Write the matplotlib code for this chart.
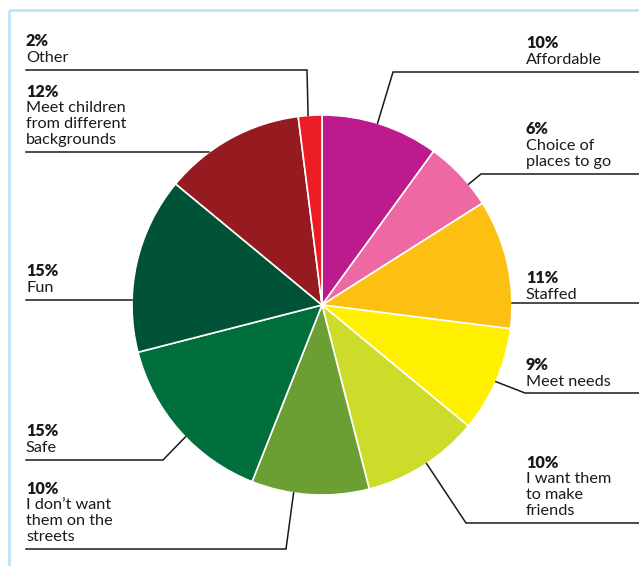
import numpy as np
import matplotlib
matplotlib.use("Agg")
import matplotlib.pyplot as plt

# ---- data ----
categories = ["Affordable", "Choice of\nplaces to go", "Staffed", "Meet needs",
              "I want them\nto make\nfriends", "I don’t want\nthem on the\nstreets",
              "Safe", "Fun", "Meet children\nfrom different\nbackgrounds", "Other"]
values = [10, 6, 11, 9, 10, 10, 15, 15, 12, 2]
colors = ["#BD1A8D", "#EE68A4", "#FDC012", "#FFF000", "#CDDC2B", "#6B9F34",
          "#006F3B", "#005336", "#951B20", "#EC1C24"]

W, H = 639, 566
CX, CY, R = 322, 305, 190

def Y(p):
    return H - p

# layout per label: side, label line y (px), elbow x (px) or None, anchor angle (deg) or None
layout = [
    ("R", 72, 393, 73.0),
    ("R", 174, 481, 39.5),
    ("R", 303, None, None),
    ("R", 393, 525, -23.8),
    ("R", 523, 466, -56.6),
    ("L", 549, 286, -98.6),
    ("L", 460, 163, 224.0),
    ("L", 300, None, None),
    ("L", 152, None, None),
    ("L", 70, 307, 94.2),
]
text_gap = [8, 8, 4, 7, 8, 8, 8, 8, 8, 8]

fig = plt.figure(figsize=(W / 100, H / 100), dpi=100)
ax = fig.add_axes([0, 0, 1, 1])
ax.pie(values, colors=colors, startangle=90, counterclock=False,
       center=(CX, Y(CY)), radius=R,
       wedgeprops=dict(edgecolor="white", linewidth=1.2))
ax.set_xlim(0, W)
ax.set_ylim(0, H)
ax.set_aspect("equal")
ax.axis("off")

# frame
frame_c = "#BDE5F6"
ax.plot([9, W], [Y(10), Y(10)], color=frame_c, lw=2, solid_capstyle="butt")
ax.plot([9, 9], [Y(10), 0], color=frame_c, lw=2, solid_capstyle="butt")

FONT = "Lato"
FS = 11.7
LS = 15.8  # px between baselines
LX, RX = 26, 526

for cat, val, (side, ly, ex, ang), gap in zip(categories, values, layout, text_gap):
    # leader line
    if side == "L":
        x0 = LX
        if ex is None:
            dy = ly - CY
            xe = CX - np.sqrt(R ** 2 - dy ** 2)
            xs, ys = [x0, xe], [ly, ly]
        else:
            a = np.deg2rad(ang)
            axp, ayp = CX + R * np.cos(a), CY - R * np.sin(a)
            xs, ys = [x0, ex, axp], [ly, ly, ayp]
    else:
        x1 = W
        if ex is None:
            dy = ly - CY
            xe = CX + np.sqrt(R ** 2 - dy ** 2)
            xs, ys = [xe, x1], [ly, ly]
        else:
            a = np.deg2rad(ang)
            axp, ayp = CX + R * np.cos(a), CY - R * np.sin(a)
            xs, ys = [axp, ex, x1], [ayp, ly, ly]
    ax.plot(xs, [Y(v) for v in ys], color="#1a1a1a", lw=1.1, solid_joinstyle="miter")

    # text
    tx = LX if side == "L" else RX
    lines = cat.split("\n")
    base = ly - gap
    for i, line in enumerate(reversed(lines)):
        ax.text(tx, Y(base - i * LS), line, fontsize=FS, family=FONT,
                color="#1a1a1a", ha="left", va="baseline")
    ax.text(tx, Y(base - len(lines) * LS), f"{val}%", fontsize=FS, family=FONT,
            fontweight="heavy", color="#1a1a1a", ha="left", va="baseline")

fig.savefig("out.png", dpi=100)
